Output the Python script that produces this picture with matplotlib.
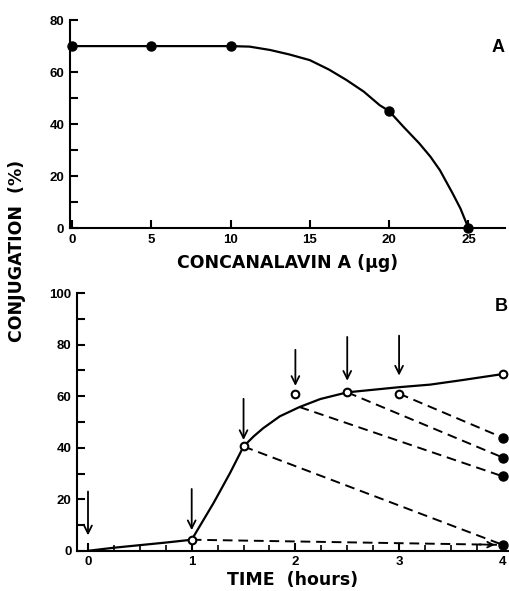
import numpy as np
import matplotlib
matplotlib.use('Agg')
import matplotlib.pyplot as plt

plt.rcParams['font.family'] = ['Liberation Sans', 'DejaVu Sans']
plt.rcParams['font.weight'] = 'bold'

# panel A: conjugation vs concanavalin A
conc = [0, 5, 10, 20, 25]
conj_a = [70, 70, 70, 45, 0]
# points
curve_a_x = [0, 5, 10, 11.2, 12.5, 13.7, 15, 16.2, 17.3, 18.4, 19.4, 20,
             20.9, 21.9, 22.6, 23.2, 24, 24.5, 25]
curve_a_y = [70, 70, 70, 69.8, 68.5, 66.8, 64.6, 61, 57, 52.5, 47.3, 45,
             39, 32.6, 27.5, 22.3, 13.4, 7.5, 0]

# panel B: time course
time_open = [1, 1.5, 2, 2.5, 3, 4]
conj_open = [4.3, 40.5, 61, 61.5, 61, 68.6]
curve_b_x = [0, 0.25, 0.5, 0.75, 1, 1.21, 1.37, 1.5, 1.6, 1.69, 1.85, 2.04,
             2.24, 2.5, 3, 3.3, 3.6, 4]
curve_b_y = [0, 1.2, 2.2, 3.2, 4.3, 18.5, 30.2, 40.5, 44.5, 47.6, 52.2, 55.8,
             58.9, 61.5, 63.5, 64.5, 66.2, 68.6]
time_filled = [4, 4, 4, 4]
conj_filled = [43.9, 36.2, 28.9, 2.3]
# dashed decay lines: start time, start value, value at 4 h
dash_start_t = [3, 2.5, 2.04, 1.5, 1]
dash_start_y = [61, 61.5, 55.8, 40.5, 4.3]
dash_end_y = [43.9, 36.2, 28.9, 2.3, 2.3]
# arrows marking additions: time, top, bottom
arrow_t = [0, 1, 1.5, 2, 2.5, 3]
arrow_top = [23, 24, 59, 78, 83, 83.5]
arrow_bot = [6, 8, 43, 64, 66, 68]

fig = plt.figure(figsize=(5.1, 5.91), dpi=100)
axA = fig.add_axes([0.137, 0.614, 0.853, 0.352])
axB = fig.add_axes([0.151, 0.068, 0.845, 0.436])

for ax in (axA, axB):
    for s in ('top', 'right'):
        ax.spines[s].set_visible(False)
    for s in ('left', 'bottom'):
        ax.spines[s].set_linewidth(1.5)
    ax.tick_params(direction='in', length=6, width=1.5, labelsize=9.5, pad=4)
    ax.tick_params(which='minor', direction='in', length=4, width=1.2)

# panel A
axA.plot(curve_a_x, curve_a_y, color='black', lw=1.6)
axA.plot(conc, conj_a, 'o', color='black', ms=6.5, clip_on=False)
axA.set_xlim(-0.13, 27.3)
axA.set_ylim(0, 80)
axA.set_xticks([0, 5, 10, 15, 20, 25])
axA.set_yticks([0, 20, 40, 60, 80])
axA.set_yticks([10, 30, 50, 70], minor=True)
axA.tick_params(which='minor', axis='y', length=6, width=1.5)
axA.set_xlabel('CONCANALAVIN A (μg)', fontsize=12.5, fontweight='bold',
               family='DejaVu Sans', labelpad=6)
axA.text(1.0, 0.87, 'A', transform=axA.transAxes, fontsize=13, fontweight='bold',
         ha='right', va='center')

# panel B
axB.plot(curve_b_x, curve_b_y, color='black', lw=1.6)
for t0, y0, y1 in zip(dash_start_t, dash_start_y, dash_end_y):
    axB.plot([t0, 4], [y0, y1], color='black', lw=1.4, linestyle=(0, (5, 3)))
axB.annotate('', xy=(3.95, 2.3), xytext=(3.75, 2.5),
             arrowprops=dict(arrowstyle='->', color='black', lw=1.3))
axB.plot(time_open, conj_open, 'o', color='black', mfc='white', mew=1.5, ms=5.5)
axB.plot(time_filled, conj_filled, 'o', color='black', ms=6.5, clip_on=False)
for t, yt, yb in zip(arrow_t, arrow_top, arrow_bot):
    axB.annotate('', xy=(t, yb), xytext=(t, yt),
                 arrowprops=dict(arrowstyle='->', color='black', lw=1.3,
                                 shrinkA=0, shrinkB=0, mutation_scale=14))
axB.set_xlim(-0.106, 4.05)
axB.set_ylim(0, 100)
axB.set_xticks([0, 1, 2, 3, 4])
axB.set_xticks(np.arange(0.25, 4, 0.25), minor=True)
axB.set_yticks([0, 20, 40, 60, 80, 100])
axB.set_yticks([10, 30, 50, 70, 90], minor=True)
axB.tick_params(which='minor', axis='y', length=6, width=1.5)
axB.set_xlabel('TIME  (hours)', fontsize=12.5, fontweight='bold',
               family='DejaVu Sans', labelpad=2)
axB.text(1.0, 0.95, 'B', transform=axB.transAxes, fontsize=13, fontweight='bold',
         ha='right', va='center')

fig.text(0.033, 0.575, 'CONJUGATION  (%)', rotation=90, ha='center', va='center',
         fontsize=12.5, fontweight='bold', family='DejaVu Sans')

fig.savefig('out.png', dpi=100)
